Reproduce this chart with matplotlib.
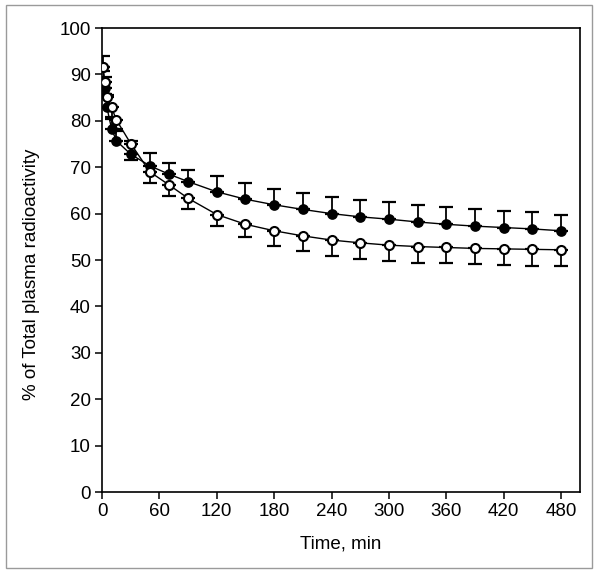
import matplotlib
matplotlib.use('Agg')
import matplotlib.pyplot as plt
from matplotlib.patches import Rectangle

plt.rcParams['font.family'] = ['Liberation Sans', 'DejaVu Sans']

# time points, min
Time = [1, 3, 5, 10, 15, 30, 50, 70, 90, 120, 150, 180, 210, 240, 270, 300,
        330, 360, 390, 420, 450, 480]

# filled circles: mean and upper SD
Filled = [91.5, 87.0, 83.0, 78.3, 75.7, 72.8, 70.3, 68.5, 66.9, 64.7, 63.1,
          61.9, 60.9, 60.0, 59.3, 58.8, 58.2, 57.7, 57.3, 57.0, 56.7, 56.3]
FilledErr = [2.5, 2.5, 2.5, 2.5, 2.5, 2.8, 2.7, 2.5, 2.6, 3.3, 3.4, 3.5, 3.6,
             3.6, 3.6, 3.6, 3.7, 3.7, 3.7, 3.6, 3.6, 3.5]

# open circles: mean and lower SD
Open = [91.7, 88.3, 85.2, 82.9, 80.2, 75.1, 69.0, 66.2, 63.3, 59.8, 57.7,
        56.3, 55.2, 54.3, 53.7, 53.2, 52.9, 52.7, 52.5, 52.4, 52.3, 52.2]
OpenErr = [1.0, 2.5, 2.5, 2.5, 2.5, 3.6, 2.5, 2.4, 2.4, 2.5, 2.7, 3.2, 3.3,
           3.4, 3.4, 3.4, 3.5, 3.4, 3.4, 3.5, 3.5, 3.4]

XTicks = [0, 60, 120, 180, 240, 300, 360, 420, 480]
YTicks = [0, 10, 20, 30, 40, 50, 60, 70, 80, 90, 100]

fig = plt.figure(figsize=(6, 5.75), dpi=100)
ax = fig.add_axes([0.170, 0.1443, 0.797, 0.807])

# outer grey frame
fig.patches.append(Rectangle((0.01, 0.012), 0.977, 0.979, transform=fig.transFigure,
                             fill=False, edgecolor='#9a9a9a', linewidth=1.0))

zeros = [0] * len(Time)
ax.errorbar(Time, Filled, yerr=[zeros, FilledErr], fmt='none', ecolor='black',
            elinewidth=1.3, capsize=5, capthick=1.6, zorder=2)
ax.errorbar(Time, Open, yerr=[OpenErr, zeros], fmt='none', ecolor='black',
            elinewidth=1.3, capsize=5, capthick=1.6, zorder=2)
ax.plot(Time, Filled, '-', color='black', lw=1.0, zorder=3)
ax.plot(Time, Open, '-', color='black', lw=1.0, zorder=3)
ax.plot(Time, Filled, 'o', ms=6.5, mfc='black', mec='black', mew=1.2, zorder=4)
ax.plot(Time, Open, 'o', ms=6.5, mfc='white', mec='black', mew=1.5, zorder=5)

ax.set_xlim(0, 500)
ax.set_ylim(0, 100)
ax.set_xticks(XTicks)
ax.set_yticks(YTicks)
ax.tick_params(direction='out', length=5, width=1.1, labelsize=13.5,
               top=False, right=False, pad=3)
for s in ax.spines.values():
    s.set_linewidth(1.2)

ax.set_xlabel('Time, min', fontsize=13.5, labelpad=11)
ax.set_ylabel('% of Total plasma radioactivity', fontsize=13.5)
ax.yaxis.set_label_coords(-0.13, 0.47)

fig.savefig('out.png', dpi=100)
